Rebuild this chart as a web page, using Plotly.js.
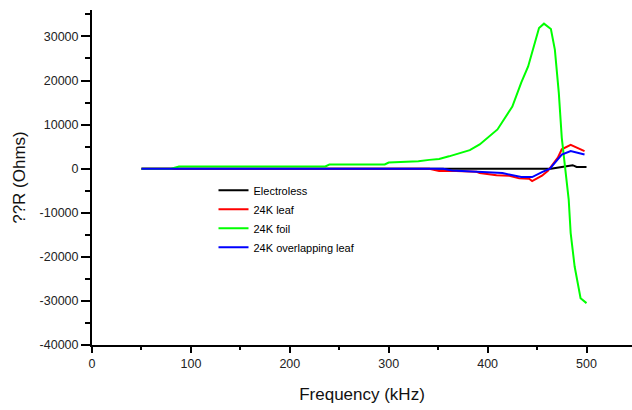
<!DOCTYPE html>
<html>
<head>
<meta charset="utf-8">
<script src="https://cdn.plot.ly/plotly-3.0.1.min.js"></script>
<style>html,body{margin:0;padding:0;background:#fff;}#chart{width:632px;height:410px;}</style>
</head>
<body>
<div id="chart"></div>
<script>
// Electroless
const elecX = [50, 100, 200, 300, 400, 455, 464, 475, 486, 490, 500];
const elecY = [0, 0, 0, 0, 0, 0, 0, 400, 800, 400, 400];

// 24K leaf
const leafX = [50, 100, 200, 300, 341, 351, 368, 389, 392, 409, 422, 432, 442, 445, 455, 461, 471, 475, 484, 498];
const leafY = [0, 0, 0, 0, 0, -500, -500, -700, -1000, -1500, -1600, -2200, -2300, -2800, -1600, -500, 2500, 4400, 5400, 4000];

// 24K foil
const foilX = [50, 80, 88, 100, 150, 200, 236, 240, 260, 296, 300, 320, 330, 341, 351, 361, 371, 382, 392, 402, 410, 425, 434, 441, 452, 457, 464, 468, 472, 475, 482, 484, 488, 494, 500];
const foilY = [0, 0, 500, 500, 500, 500, 500, 950, 950, 950, 1400, 1500, 1700, 2000, 2200, 2800, 3400, 4200, 5500, 7300, 8900, 14100, 19500, 23200, 31900, 32900, 31700, 27000, 17200, 7000, -7000, -14600, -22200, -29400, -30500];

// 24K overlapping leaf
const overX = [50, 100, 200, 300, 355, 364, 398, 415, 434, 445, 455, 463, 475, 484, 498];
const overY = [0, 0, 0, 0, 0, -400, -800, -1000, -1900, -1900, -800, 0, 3200, 4000, 3200];

const names = ["Electroless", "24K leaf", "24K foil", "24K overlapping leaf"];
const colors = ["#000000", "#ff0000", "#00ff00", "#0000ff"];

// tick labels
const xTickVals = [0, 100, 200, 300, 400, 500];
const xTickText = ["0", "100", "200", "300", "400", "500"];
const yTickVals = [-40000, -30000, -20000, -10000, 0, 10000, 20000, 30000];
const yTickText = ["-40000", "-30000", "-20000", "-10000", "0", "10000", "20000", "30000"];

const xs = [elecX, leafX, foilX, overX];
const ys = [elecY, leafY, foilY, overY];

const traces = names.map((n, i) => ({
  x: xs[i], y: ys[i], name: n, type: "scatter", mode: "lines",
  line: {color: colors[i], width: 2}
}));

const ff = "Liberation Sans, Arial, sans-serif";

const layout = {
  width: 632, height: 410,
  margin: {l: 92, r: 0, t: 10, b: 65},
  paper_bgcolor: "#fff", plot_bgcolor: "#fff",
  font: {family: ff, color: "#222"},
  showlegend: true,
  legend: {
    x: 0.225, y: 0.505, xanchor: "left", yanchor: "top",
    bgcolor: "rgba(0,0,0,0)", borderwidth: 0,
    font: {family: ff, size: 11, color: "#000"},
    itemwidth: 30, tracegroupgap: 0
  },
  xaxis: {
    range: [0, 546], showgrid: false, zeroline: false,
    showline: true, linecolor: "#000", linewidth: 2,
    ticks: "outside", ticklen: 6, tickwidth: 2, tickcolor: "#000",
    tickmode: "array", tickvals: xTickVals, ticktext: xTickText,
    minor: {dtick: 50, tick0: 0, ticks: "outside", ticklen: 3, tickwidth: 2, tickcolor: "#000"},
    tickfont: {family: ff, size: 12.5, color: "#222"},
    title: {text: "Frequency (kHz)", font: {family: ff, size: 17, color: "#111"}, standoff: 18}
  },
  yaxis: {
    range: [-40000, 36000], showgrid: false, zeroline: false,
    showline: true, linecolor: "#000", linewidth: 2,
    ticks: "outside", ticklen: 9, tickwidth: 2, tickcolor: "#000",
    tickmode: "array", tickvals: yTickVals, ticktext: yTickText,
    minor: {dtick: 5000, tick0: 0, ticks: "outside", ticklen: 5, tickwidth: 2, tickcolor: "#000"},
    tickfont: {family: ff, size: 12.5, color: "#222"},
    title: {text: "??R (Ohms)", font: {family: ff, size: 17, color: "#111"}, standoff: 10}
  }
};

Plotly.newPlot("chart", traces, layout, {displayModeBar: false, staticPlot: true});
</script>
</body>
</html>
